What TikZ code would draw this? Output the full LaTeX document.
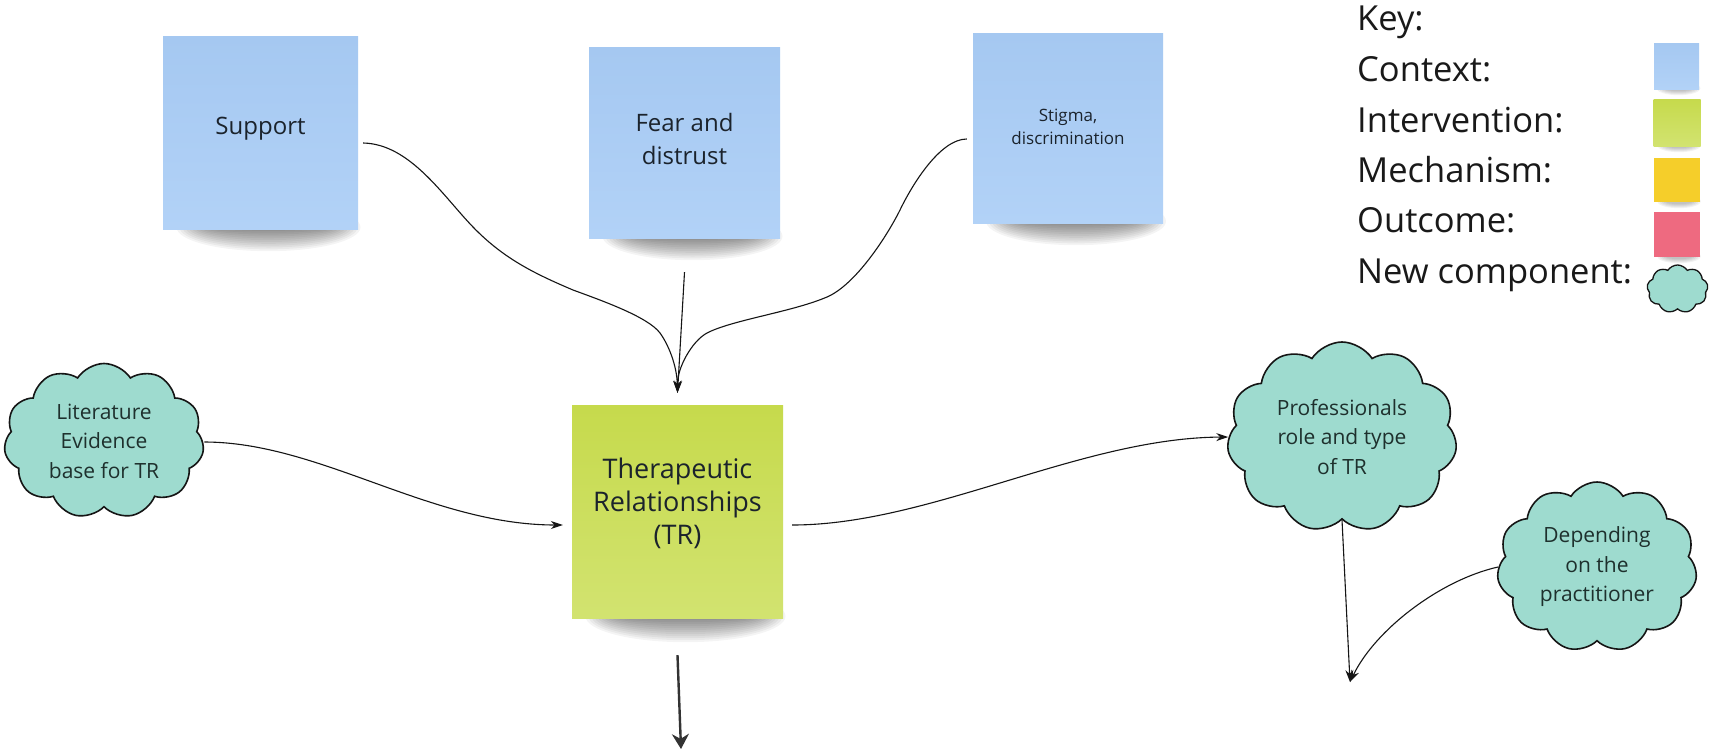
\documentclass[tikz,border=0pt]{standalone}
\usepackage{fontspec}
\setmainfont{Open Sans}
\usetikzlibrary{arrows.meta,shapes.symbols,calc,backgrounds}

\definecolor{noteblue}{HTML}{A5C8F1}
\definecolor{noteblueb}{HTML}{B2D2F7}
\definecolor{notegreen}{HTML}{C6DA4C}
\definecolor{notegreenb}{HTML}{D2E370}
\definecolor{noteyellow}{HTML}{F5CE2A}
\definecolor{notepink}{HTML}{EE6A80}
\definecolor{cloudfill}{HTML}{9EDBCF}
\definecolor{ink}{HTML}{1B232C}
\definecolor{cloudink}{HTML}{1E302D}
\definecolor{lineink}{HTML}{151515}

\newcommand{\setfs}[2]{\fontsize{#1}{#2}\selectfont}
% soft shadow under a sticky note: #1 node, #2 half width, #3 depth, #4 layers
\newcommand{\softshadow}[4]{%
  \foreach \k in {0,...,#4} {
    \fill[black, opacity=0.045]
      ($(#1.south)+(8,-2)$) ellipse [x radius={(#2-3*\k)*1pt}, y radius={(#3-#3/(#4+2)*\k)*1pt}];
  }%
}

\begin{document}
\begin{tikzpicture}[x=1pt, y=-1pt,
  stickybase/.style={rectangle, inner sep=0pt},
  bluenote/.style={stickybase, top color=noteblue, bottom color=noteblueb},
  greennote/.style={stickybase, top color=notegreen, bottom color=notegreenb},
  yellownote/.style={stickybase, fill=noteyellow},
  pinknote/.style={stickybase, fill=notepink},
  notetext/.style={text=ink, align=center, inner sep=0pt},
  bubble/.style={cloud, cloud puffs=11, cloud puff arc=115, cloud ignores aspect,
    draw=lineink, line width=1.6pt, fill=cloudfill, inner sep=0pt},
  bubbletext/.style={text=cloudink, align=center, inner sep=0pt,
    font=\setfs{21}{29.5}},
  keytext/.style={anchor=base west, inner sep=0pt, text=black!90,
    font=\setfs{34.5}{40}},
  arr/.style={draw=lineink, line width=1.1pt, -{Stealth[length=12pt, width=8pt]}},
  thickarr/.style={draw=black!80, line width=2.4pt, -{Stealth[length=15pt, width=17pt]}},
]
\useasboundingbox (0,0) rectangle (1710,755);

% context notes
\node[bluenote, minimum width=195pt, minimum height=193pt,
  label={[notetext, yshift=4pt, font=\setfs{24}{33}]center:Support}] (support) at (260.5,132.5) {};
\node[bluenote, minimum width=191pt, minimum height=191pt,
  label={[notetext, yshift=4pt, font=\setfs{24}{33}]center:{Fear and\\distrust}}] (fear) at (684.5,142.5) {};
\node[bluenote, minimum width=190pt, minimum height=190pt,
  label={[notetext, yshift=1pt, font=\setfs{17}{23}]center:{Stigma,\\discrimination}}] (stigma) at (1068,128) {};

% intervention note
\node[greennote, minimum width=211pt, minimum height=213pt,
  label={[notetext, yshift=8pt, font=\setfs{27}{33}]center:{Therapeutic\\Relationships\\(TR)}}] (tr) at (677.5,511.5) {};

% new components
\node[bubble, minimum width=200pt, minimum height=155pt,
  label={[bubbletext]center:{Literature\\Evidence\\base for TR}}] (lit) at (104,441) {};
\node[bubble, minimum width=230pt, minimum height=190pt,
  label={[bubbletext]center:{Professionals\\role and type\\of TR}}] (prof) at (1342,437) {};
\node[bubble, minimum width=200pt, minimum height=170pt,
  label={[bubbletext]center:{Depending\\on the\\practitioner}}] (dep) at (1597,567) {};

% key
\node[keytext] (kkey) at (1357,30) {Key:};
\node[keytext] (kctx) at (1357,81) {Context:};
\node[keytext] (kint) at (1357,132) {Intervention:};
\node[keytext] (kmech) at (1357,182) {Mechanism:};
\node[keytext] (kout) at (1357,232) {Outcome:};
\node[keytext] (knew) at (1357,283) {New component:};
\node[bluenote, minimum width=45pt, minimum height=46pt] (sctx) at (1676.5,66) {};
\node[greennote, minimum width=47pt, minimum height=47pt] (sint) at (1677,122.5) {};
\node[yellownote, minimum width=46pt, minimum height=44pt] (smech) at (1677,180) {};
\node[pinknote, minimum width=46pt, minimum height=45pt] (sout) at (1677,234.5) {};
\node[bubble, cloud puffs=9, line width=1.3pt, minimum width=61pt, minimum height=48pt] (snew) at (1677.5,289) {};

% shadows under the sticky notes
\begin{scope}[on background layer]
  \fill[white] (0,0) rectangle (1710,755);
  \softshadow{support}{92}{24}{11}
  \softshadow{fear}{90}{24}{11}
  \softshadow{stigma}{90}{24}{11}
  \softshadow{tr}{100}{26}{11}
  \foreach \s in {sctx,sint,smech,sout} {
    \foreach \k in {0,...,4}
      \fill[black, opacity=0.05] ($(\s.south)+(2,-1)$)
        ellipse [x radius={(22-2*\k)*1pt}, y radius={(7-\k)*1pt}];
  }
\end{scope}

% connectors
\draw[arr] ($(support.east)+(5,10.5)$)
  .. controls (410,144) and (443,196) .. (473,227)
  .. controls (503,258) and (533,273) .. (573,290)
  .. controls (603,301) and (648,317) .. (660,333)
  .. controls (668,344) and (677,365) .. ($(tr.north)+(0,-12)$);
\draw[arr] ($(fear.south)+(0,34)$) -- ($(tr.north)+(0,-12)$);
\draw[arr] ($(stigma.west)+(-6,11)$)
  .. controls (940,139) and (912,185) .. (900,210)
  .. controls (886,238) and (855,285) .. (827,297)
  .. controls (792,312) and (732,320) .. (707,333)
  .. controls (692,341) and (677,368) .. ($(tr.north)+(0,-12)$);
\draw[arr] ($(lit.east)+(1,1)$)
  .. controls (320,442) and (430,525) .. ($(tr.west)+(-9,13.5)$);
\draw[arr] ($(tr.east)+(9,13.5)$)
  .. controls (930,525) and (1080,438) .. (prof.west);

\coordinate (join) at (1350,682);
\draw[arr] (prof.south) -- (join);
\draw[arr] (dep.west) .. controls (1440,580) and (1375,630) .. (join);

\coordinate (down) at (681,749);
\draw[thickarr] ($(tr.south)+(0,37)$) -- (down);
\end{tikzpicture}
\end{document}
